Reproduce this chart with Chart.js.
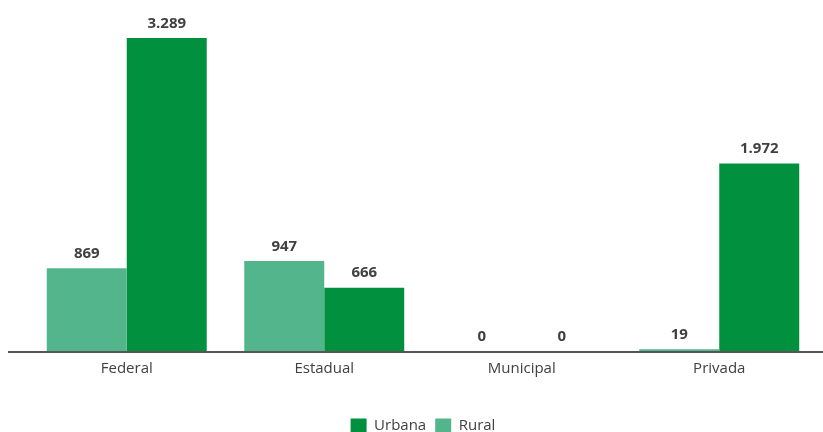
<!DOCTYPE html>
<html>
<head>
<meta charset="utf-8">
<script src="https://cdn.jsdelivr.net/npm/chart.js@4/dist/chart.umd.min.js"></script>
<style>
  html, body { margin: 0; padding: 0; background: #fff; }
  #wrap { width: 823px; height: 432px; }
</style>
</head>
<body>
<div id="wrap"><canvas id="chart" width="823" height="432"></canvas></div>
<script>
const categories = ["Federal", "Estadual", "Municipal", "Privada"];
const rural = [869, 947, 0, 19];
const urbana = [3289, 666, 0, 1972];

const darkGreen = "#00903e";
const lightGreen = "#53b58b";
const textColor = "#404040";
const fontFamily = "'Open Sans', 'Liberation Sans', sans-serif";

// formata 3289 -> 3.289
const fmt = (v) => String(v).replace(/\B(?=(\d{3})+(?!\d))/g, ".");

const labelsPlugin = {
    id: "valueLabels",
    afterDatasetsDraw(chart) {
        const ctx = chart.ctx;
        ctx.save();
        ctx.font = "bold 15px " + fontFamily;
        ctx.fillStyle = textColor;
        ctx.textAlign = "center";
        ctx.textBaseline = "bottom";
        chart.data.datasets.forEach((ds, i) => {
            chart.getDatasetMeta(i).data.forEach((bar, j) => {
                ctx.fillText(fmt(ds.data[j]), bar.x, bar.y - 7);
            });
        });
        ctx.restore();
    },
    afterDraw(chart) {
        const ctx = chart.ctx;
        const y = chart.scales.y.getPixelForValue(0);
        ctx.save();
        ctx.strokeStyle = "#555";
        ctx.lineWidth = 2;
        ctx.beginPath();
        ctx.moveTo(8, y + 1);
        ctx.lineTo(chart.width, y + 1);
        ctx.stroke();
        ctx.restore();
    }
};

new Chart(document.getElementById("chart"), {
    type: "bar",
    data: {
        labels: categories,
        datasets: [
            { label: "Rural", data: rural, backgroundColor: lightGreen },
            { label: "Urbana", data: urbana, backgroundColor: darkGreen }
        ]
    },
    options: {
        responsive: false,
        animation: false,
        layout: { padding: { left: 28, right: 5, top: 18, bottom: -11 } },
        datasets: {
            bar: { categoryPercentage: 0.81, barPercentage: 1.0 }
        },
        scales: {
            x: {
                grid: { display: false, drawTicks: false },
                border: { display: false },
                ticks: {
                    color: textColor,
                    font: { family: fontFamily, size: 15 },
                    padding: 9
                },
                afterFit: (scale) => { scale.height += 22; }
            },
            y: {
                display: false,
                min: 0,
                max: 3500
            }
        },
        plugins: {
            legend: {
                position: "bottom",
                reverse: true,
                labels: {
                    color: textColor,
                    font: { family: fontFamily, size: 15 },
                    boxWidth: 16,
                    boxHeight: 14,
                    padding: 9
                }
            },
            tooltip: { enabled: false }
        }
    },
    plugins: [labelsPlugin]
});
</script>
</body>
</html>
